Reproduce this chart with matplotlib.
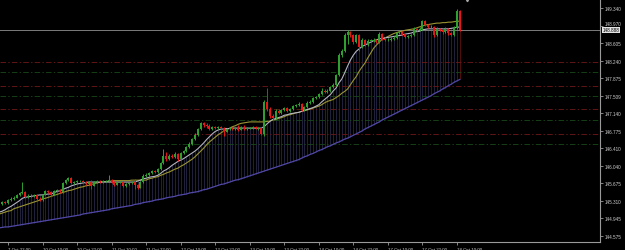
import numpy as np
import matplotlib
matplotlib.use("Agg")
import matplotlib.pyplot as plt
import matplotlib.transforms as mtransforms

### H1 bars, 7 Oct 19:00 -> 18 Oct 11:00 (open = previous close)
first_open = 145.22
closes = [
    145.24, 145.28, 145.26, 145.32, 145.35, 145.37, 145.43, 145.47, 145.49, 145.39,
    145.41, 145.41, 145.43, 145.35, 145.32, 145.43, 145.51, 145.49, 145.43, 145.51,
    145.53, 145.49, 145.68, 145.74, 145.79, 145.68, 145.70, 145.72, 145.72, 145.70,
    145.66, 145.70, 145.62, 145.70, 145.72, 145.70, 145.72, 145.72, 145.74, 145.70,
    145.64, 145.70, 145.70, 145.62, 145.66, 145.68, 145.70, 145.64, 145.58, 145.70,
    145.83, 145.85, 145.89, 145.93, 145.91, 145.97, 146.10, 146.25, 146.18, 146.25,
    146.23, 146.29, 146.18, 146.31, 146.35, 146.43, 146.50, 146.60, 146.69, 146.81,
    146.93, 146.89, 146.87, 146.81, 146.85, 146.83, 146.85, 146.83, 146.75, 146.81,
    146.83, 146.81, 146.83, 146.79, 146.85, 146.81, 146.83, 146.83, 146.85, 146.83,
    146.83, 146.71, 147.38, 147.23, 147.08, 147.04, 147.19, 147.15, 147.21, 147.25,
    147.19, 147.23, 147.29, 147.31, 147.34, 147.21, 147.27, 147.36, 147.38, 147.46,
    147.48, 147.54, 147.61, 147.59, 147.61, 147.69, 147.73, 147.94, 148.36, 148.45,
    148.78, 148.84, 148.78, 148.63, 148.78, 148.53, 148.68, 148.57, 148.66, 148.66,
    148.68, 148.63, 148.80, 148.70, 148.68, 148.68, 148.70, 148.72, 148.82, 148.84,
    148.80, 148.74, 148.76, 148.78, 148.91, 148.89, 148.91, 149.07, 148.99, 148.95,
    148.95, 148.78, 148.91, 148.89, 148.84, 148.91, 148.82, 148.78, 148.93, 149.28,
    148.888,
]
highs = [
    145.27, 145.31, 145.30, 145.34, 145.38, 145.40, 145.46, 145.50, 145.70, 145.52,
    145.44, 145.44, 145.46, 145.45, 145.38, 145.45, 145.54, 145.53, 145.52, 145.53,
    145.56, 145.56, 145.70, 145.77, 145.81, 145.80, 145.73, 145.74, 145.75, 145.74,
    145.72, 145.72, 145.74, 145.72, 145.74, 145.74, 145.74, 145.75, 145.85, 145.77,
    145.72, 145.72, 145.73, 145.72, 145.68, 145.71, 145.73, 145.77, 145.66, 145.72,
    145.86, 145.88, 145.92, 145.96, 145.95, 146.00, 146.13, 146.39, 146.34, 146.28,
    146.29, 146.32, 146.31, 146.33, 146.38, 146.46, 146.53, 146.63, 146.72, 146.84,
    146.96, 146.96, 146.93, 146.91, 146.88, 146.87, 146.88, 146.87, 146.86, 146.83,
    146.86, 146.85, 146.86, 146.89, 146.88, 146.89, 146.86, 146.86, 146.87, 146.87,
    146.86, 146.85, 147.42, 147.67, 147.27, 147.13, 147.22, 147.23, 147.24, 147.28,
    147.28, 147.26, 147.32, 147.34, 147.37, 147.36, 147.30, 147.39, 147.41, 147.49,
    147.51, 147.57, 147.67, 147.65, 147.64, 147.72, 147.77, 147.97, 148.40, 148.49,
    148.82, 148.88, 148.87, 148.81, 148.81, 148.80, 148.71, 148.70, 148.69, 148.69,
    148.71, 148.70, 148.84, 148.82, 148.73, 148.72, 148.73, 148.75, 148.85, 148.87,
    148.87, 148.82, 148.79, 148.81, 148.94, 148.93, 148.94, 149.10, 149.09, 149.02,
    148.98, 148.97, 148.94, 148.93, 148.92, 148.94, 148.93, 148.84, 148.96, 149.33,
    149.30,
]
lows = [
    145.19, 145.22, 145.23, 145.25, 145.30, 145.33, 145.36, 145.41, 145.45, 145.37,
    145.37, 145.39, 145.39, 145.33, 145.30, 145.31, 145.42, 145.47, 145.41, 145.42,
    145.49, 145.47, 145.48, 145.66, 145.72, 145.66, 145.66, 145.68, 145.70, 145.68,
    145.64, 145.64, 145.55, 145.61, 145.68, 145.68, 145.69, 145.70, 145.70, 145.68,
    145.62, 145.63, 145.68, 145.59, 145.60, 145.64, 145.66, 145.55, 145.56, 145.57,
    145.69, 145.81, 145.83, 145.87, 145.89, 145.90, 145.95, 146.08, 146.15, 146.16,
    146.20, 146.21, 146.15, 146.17, 146.29, 146.33, 146.41, 146.48, 146.58, 146.67,
    146.79, 146.86, 146.84, 146.78, 146.79, 146.81, 146.81, 146.81, 146.67, 146.74,
    146.79, 146.79, 146.79, 146.77, 146.78, 146.79, 146.79, 146.81, 146.81, 146.81,
    146.80, 146.69, 146.67, 147.19, 147.05, 147.00, 147.02, 147.12, 147.13, 147.19,
    147.16, 147.17, 147.21, 147.27, 147.29, 147.18, 147.19, 147.25, 147.34, 147.36,
    147.44, 147.46, 147.52, 147.56, 147.57, 147.59, 147.67, 147.71, 147.92, 148.33,
    148.43, 148.59, 148.74, 148.60, 148.61, 148.45, 148.51, 148.55, 148.55, 148.63,
    148.64, 148.61, 148.62, 148.68, 148.66, 148.65, 148.66, 148.68, 148.70, 148.80,
    148.78, 148.72, 148.72, 148.74, 148.76, 148.87, 148.87, 148.89, 148.97, 148.93,
    148.92, 148.74, 148.76, 148.86, 148.81, 148.82, 148.79, 148.76, 148.77, 148.91,
    148.87,
]

### indicator lines
ma_fast = [
    145.07, 145.09, 145.12, 145.16, 145.19, 145.23, 145.27, 145.31, 145.36, 145.38,
    145.39, 145.40, 145.41, 145.42, 145.43, 145.43, 145.44, 145.45, 145.45, 145.48,
    145.50, 145.52, 145.54, 145.57, 145.59, 145.62, 145.64, 145.66, 145.67, 145.68,
    145.69, 145.70, 145.70, 145.70, 145.70, 145.70, 145.70, 145.70, 145.70, 145.70,
    145.70, 145.70, 145.70, 145.70, 145.70, 145.70, 145.70, 145.70, 145.72, 145.74,
    145.77, 145.78, 145.80, 145.81, 145.82, 145.84, 145.88, 145.93, 145.96, 146.00,
    146.05, 146.09, 146.13, 146.16, 146.19, 146.23, 146.27, 146.31, 146.35, 146.40,
    146.46, 146.52, 146.59, 146.65, 146.71, 146.76, 146.79, 146.81, 146.81, 146.82,
    146.82, 146.83, 146.83, 146.83, 146.83, 146.83, 146.83, 146.83, 146.83, 146.83,
    146.83, 146.83, 146.86, 146.92, 146.97, 147.01, 147.03, 147.05, 147.07, 147.10,
    147.11, 147.13, 147.14, 147.15, 147.16, 147.18, 147.20, 147.22, 147.24, 147.26,
    147.29, 147.32, 147.38, 147.43, 147.48, 147.53, 147.61, 147.67, 147.78, 147.86,
    147.99, 148.13, 148.26, 148.36, 148.44, 148.49, 148.54, 148.57, 148.60, 148.63,
    148.66, 148.68, 148.70, 148.71, 148.72, 148.73, 148.74, 148.75, 148.76, 148.77,
    148.78, 148.80, 148.81, 148.82, 148.84, 148.85, 148.86, 148.89, 148.90, 148.91,
    148.91, 148.91, 148.91, 148.91, 148.91, 148.91, 148.91, 148.92, 148.93, 148.94,
    148.95,
]
ma_slow = [
    145.03, 145.05, 145.07, 145.09, 145.10, 145.14, 145.16, 145.18, 145.20, 145.22,
    145.24, 145.26, 145.28, 145.30, 145.32, 145.35, 145.36, 145.38, 145.40, 145.42,
    145.44, 145.46, 145.48, 145.50, 145.52, 145.53, 145.55, 145.57, 145.59, 145.60,
    145.62, 145.63, 145.65, 145.67, 145.68, 145.70, 145.71, 145.71, 145.72, 145.72,
    145.73, 145.73, 145.73, 145.73, 145.73, 145.73, 145.74, 145.74, 145.74, 145.74,
    145.74, 145.74, 145.77, 145.78, 145.80, 145.81, 145.84, 145.86, 145.89, 145.91,
    145.94, 145.97, 145.99, 146.03, 146.06, 146.10, 146.14, 146.18, 146.23, 146.29,
    146.35, 146.41, 146.48, 146.54, 146.59, 146.64, 146.69, 146.73, 146.77, 146.80,
    146.83, 146.86, 146.88, 146.91, 146.93, 146.94, 146.95, 146.96, 146.96, 146.96,
    146.96, 146.96, 146.96, 146.97, 146.98, 147.00, 147.01, 147.03, 147.05, 147.07,
    147.10, 147.11, 147.13, 147.15, 147.16, 147.18, 147.20, 147.21, 147.23, 147.25,
    147.27, 147.29, 147.32, 147.36, 147.39, 147.41, 147.43, 147.47, 147.51, 147.56,
    147.60, 147.65, 147.74, 147.83, 147.91, 148.02, 148.11, 148.19, 148.30, 148.40,
    148.50, 148.57, 148.63, 148.69, 148.72, 148.75, 148.78, 148.81, 148.83, 148.85,
    148.86, 148.88, 148.89, 148.90, 148.91, 148.93, 148.95, 148.97, 148.99, 149.00,
    149.01, 149.02, 149.03, 149.03, 149.04, 149.04, 149.05, 149.05, 149.06, 149.07,
    149.07,
]
ma_long = [
    144.74, 144.75, 144.76, 144.76, 144.77, 144.78, 144.79, 144.80, 144.81, 144.82,
    144.83, 144.84, 144.85, 144.86, 144.87, 144.88, 144.89, 144.90, 144.91, 144.92,
    144.93, 144.94, 144.95, 144.96, 144.97, 144.98, 144.99, 145.00, 145.01, 145.03,
    145.04, 145.05, 145.06, 145.07, 145.08, 145.09, 145.10, 145.11, 145.12, 145.14,
    145.15, 145.16, 145.17, 145.18, 145.19, 145.20, 145.21, 145.23, 145.24, 145.25,
    145.27, 145.28, 145.29, 145.30, 145.32, 145.33, 145.34, 145.35, 145.37, 145.38,
    145.39, 145.40, 145.42, 145.43, 145.44, 145.45, 145.47, 145.48, 145.49, 145.50,
    145.52, 145.54, 145.55, 145.57, 145.59, 145.61, 145.63, 145.65, 145.66, 145.68,
    145.70, 145.72, 145.74, 145.75, 145.77, 145.79, 145.81, 145.83, 145.85, 145.87,
    145.89, 145.91, 145.93, 145.95, 145.97, 145.99, 146.01, 146.03, 146.05, 146.07,
    146.09, 146.11, 146.13, 146.15, 146.17, 146.20, 146.23, 146.25, 146.28, 146.30,
    146.33, 146.36, 146.38, 146.41, 146.44, 146.46, 146.49, 146.52, 146.54, 146.57,
    146.60, 146.62, 146.65, 146.68, 146.71, 146.74, 146.77, 146.81, 146.84, 146.87,
    146.90, 146.93, 146.96, 147.00, 147.03, 147.06, 147.09, 147.12, 147.15, 147.18,
    147.21, 147.24, 147.27, 147.30, 147.33, 147.36, 147.39, 147.42, 147.45, 147.48,
    147.51, 147.55, 147.58, 147.61, 147.65, 147.68, 147.72, 147.75, 147.79, 147.82,
    147.85,
]

### horizontal levels
levels = [148.22, 148.01, 147.71, 147.50, 147.22, 147.01, 146.71, 146.50]
level_colors = ["#6e1818", "#1a4a1a"] * 4
bid = 148.888

### axis labels
price_ticks = ["149.340", "148.970", "148.605", "148.240", "147.875", "147.509", "147.140",
               "146.775", "146.410", "146.040", "145.675", "145.310", "144.945", "144.575"]
time_labels = ["7 Oct 22:00", "10 Oct 10:00", "10 Oct 22:00", "11 Oct 10:00", "11 Oct 22:00",
               "12 Oct 10:00", "12 Oct 22:00", "13 Oct 10:00", "13 Oct 22:00", "14 Oct 10:00",
               "14 Oct 22:00", "17 Oct 10:00", "17 Oct 22:00", "18 Oct 10:00"]
time_bars = [3, 15, 27, 39, 51, 63, 75, 87, 99, 111, 123, 135, 147, 159]

plt.rcParams["font.family"] = ["Liberation Sans", "DejaVu Sans"]
plt.rcParams["lines.scale_dashes"] = False

closes = np.array(closes)
highs = np.array(highs)
lows = np.array(lows)
opens = np.r_[first_open, closes[:-1]]
n = len(closes)
idx = np.arange(n)

fig = plt.figure(figsize=(6.25, 2.51), dpi=100, facecolor="black")
ax = fig.add_axes([0, 8 / 251, 600 / 625, 243 / 251], facecolor="black")

# histogram between the long line and the fast MA
hist_colors = ["#2a2a4e"] * (n - 1) + ["#6a1010"]
ax.vlines(idx, ma_long, ma_fast, colors=hist_colors, lw=0.55, zorder=1)

for lvl, col in zip(levels, level_colors):
    ax.axhline(lvl, color=col, lw=0.6, dashes=(4, 1.6, 1, 1.6), zorder=2)
ax.axhline(bid, color="#7c7c7c", lw=0.7, zorder=2)

ax.plot(idx, ma_long, color="#5048a8", lw=0.9, zorder=3)
ax.plot(idx, ma_slow, color="#9a9432", lw=0.8, zorder=3)
ax.plot(idx, ma_fast, color="#b4b4c4", lw=0.8, zorder=3)

# candles
cols = np.where(closes >= opens, "#2f9f2f", "#e81616")
ax.vlines(idx, lows, highs, colors=cols, lw=0.7, zorder=4)
body = np.maximum(np.abs(closes - opens), 0.006)
ax.bar(idx, body, bottom=np.minimum(opens, closes), width=0.7, color=cols, lw=0, zorder=5)

ax.set_xlim(0.22, 208.7)
ax.set_ylim(144.444, 149.535)

for s in ["top", "left"]:
    ax.spines[s].set_visible(False)
for s in ["right", "bottom"]:
    ax.spines[s].set_color("#9a9a9a")
    ax.spines[s].set_linewidth(0.8)

ax.yaxis.tick_right()
ax.set_yticks([float(t) for t in price_ticks], price_ticks)
ax.tick_params(axis="y", colors="#9a9a9a", labelcolor="#cfcfcf", labelsize=3.3,
               length=2, width=0.6, pad=1.5)
ax.set_xticks(time_bars, time_labels, ha="left")
ax.tick_params(axis="x", colors="#9a9a9a", labelcolor="#cfcfcf", labelsize=3.2,
               length=2.5, width=0.6, pad=1)
# the 148.970 label sits just above the price box
ax.get_yticklabels()[1].set_va("bottom")

# current price box on the price scale
trans = mtransforms.blended_transform_factory(ax.transAxes, ax.transData)
ax.text(1.004, bid, "148.888", transform=trans, fontsize=3.3, color="black",
        va="center", ha="left", clip_on=False, zorder=10,
        bbox=dict(boxstyle="square,pad=0.08", fc="#e4e4e4", ec="none"))

# chart shift marker
trans2 = mtransforms.blended_transform_factory(ax.transData, ax.transAxes)
ax.plot([162.5], [0.994], marker="v", ms=1.8, color="#a8a8a8", transform=trans2, clip_on=False)

fig.savefig("out.png", dpi=100, facecolor="black")
